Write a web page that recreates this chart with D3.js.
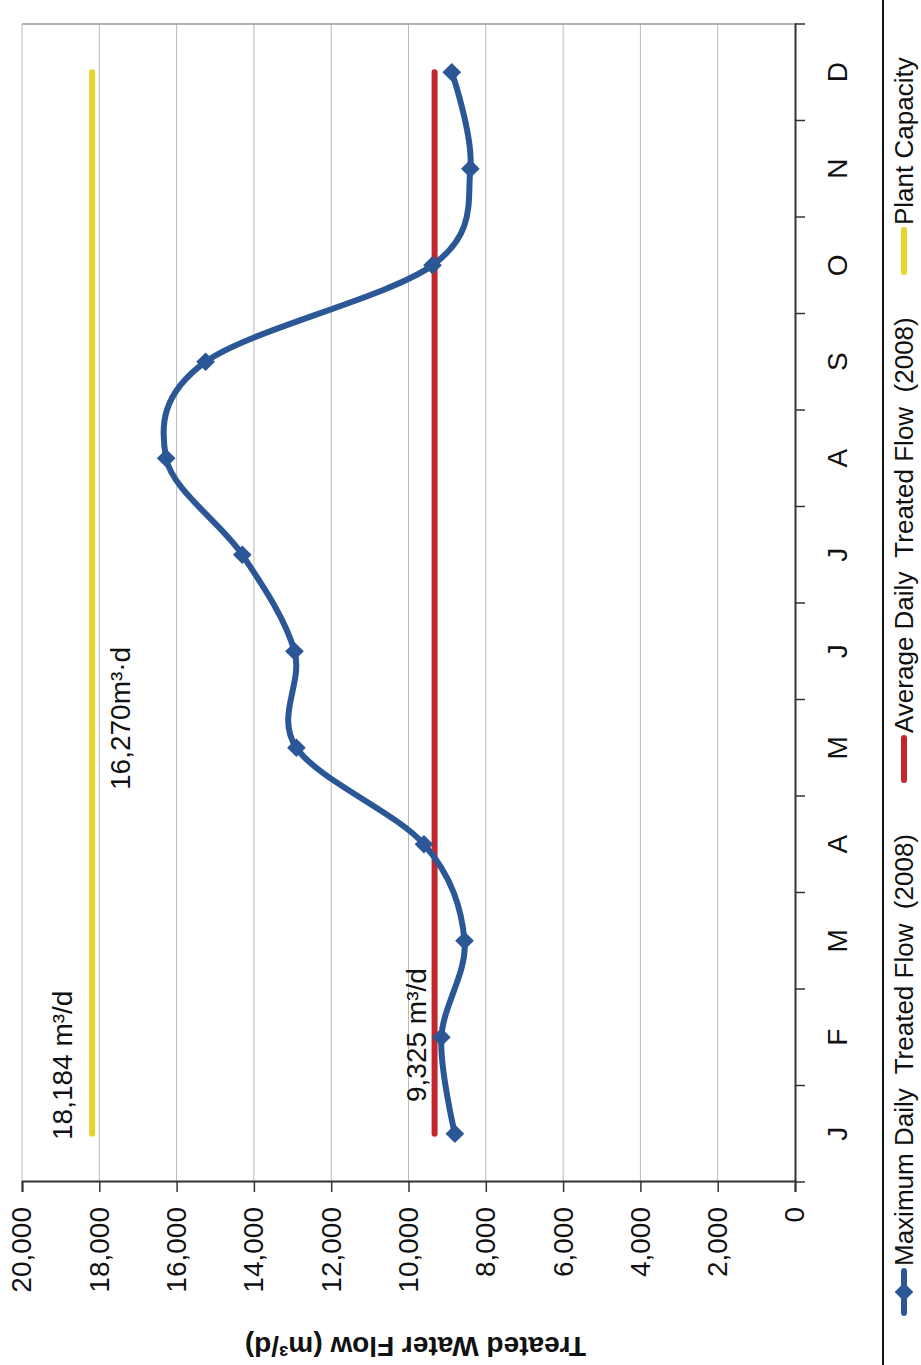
<!DOCTYPE html>
<html>
    <head>
        <style>
            body { margin: 0; background: #ffffff; }
            text { font-family: "Liberation Sans", Arial, sans-serif; }
        </style>
    </head>
    <body>
        <div id="graph_div"></div>
    </body>
    <script src="https://d3js.org/d3.v7.min.js"></script>
    <script>
        // data (2008)
        var months = ["J", "F", "M", "A", "M", "J", "J", "A", "S", "O", "N", "D"];
        var maxDaily = [8800, 9150, 8550, 9600, 12900, 12950, 14300, 16270, 15250, 9380, 8400, 8880];
        var avgDaily = 9325;
        var plantCapacity = 18184;
        var valueTicks = [0, 2000, 4000, 6000, 8000, 10000, 12000, 14000, 16000, 18000, 20000];
        var legendNames = ["Maximum Daily  Treated Flow  (2008)", "Average Daily  Treated Flow  (2008)", "Plant Capacity"];

        var blue = "#2b5797", red = "#c1272d", yellow = "#e6d52c";

        // page is a landscape chart turned a quarter turn, so draw it flat and rotate
        var W = 1365, H = 921;
        var svg = d3.select("#graph_div")
          .append("svg")
            .attr("width", H)
            .attr("height", W);

        var g = svg.append("g")
            .attr("transform", "translate(0," + W + ") rotate(-90)");

        var x = d3.scaleBand()
            .domain(d3.range(months.length))
            .range([183, 1341])
            .padding(0);

        var y = d3.scaleLinear()
            .domain([0, 20000])
            .range([795, 22]);

        var cx = function(i) { return x(i) + x.bandwidth() / 2; };

        // grid lines
        g.append("g")
          .selectAll("line")
          .data(valueTicks.slice(1))
          .enter().append("line")
            .attr("x1", x.range()[0])
            .attr("x2", x.range()[1])
            .attr("y1", function(d) { return y(d); })
            .attr("y2", function(d) { return y(d); })
            .attr("stroke", "#b9b9b9")
            .attr("stroke-width", 1);

        // plot frame on the far side
        g.append("line")
            .attr("x1", x.range()[1]).attr("x2", x.range()[1])
            .attr("y1", y(0)).attr("y2", y(20000))
            .attr("stroke", "#9a9a9a")
            .attr("stroke-width", 1.5);

        // value axis
        var yAxis = g.append("g")
            .attr("transform", "translate(" + x.range()[0] + ",0)")
            .call(d3.axisLeft(y).tickValues(valueTicks).tickFormat(d3.format(",")).tickSize(10).tickPadding(15));
        yAxis.select(".domain").attr("stroke", "#333").attr("stroke-width", 2);
        yAxis.selectAll(".tick line").attr("stroke", "#333").attr("stroke-width", 1.5);
        yAxis.selectAll("text")
            .attr("font-size", "28px")
            .attr("font-family", "Liberation Sans, Arial, sans-serif")
            .attr("fill", "#111");

        // category axis - labels at band centres, ticks at band edges
        var xAxis = g.append("g")
            .attr("transform", "translate(0," + y(0) + ")")
            .call(d3.axisBottom(x).tickFormat(function(i) { return months[i]; }).tickSize(0).tickPadding(32));
        xAxis.select(".domain").attr("stroke", "#333").attr("stroke-width", 2);
        xAxis.selectAll("text")
            .attr("font-size", "28px")
            .attr("font-family", "Liberation Sans, Arial, sans-serif")
            .attr("fill", "#111");
        xAxis.selectAll(".edge")
          .data(d3.range(months.length + 1))
          .enter().append("line")
            .attr("class", "edge")
            .attr("x1", function(i) { return x.range()[0] + i * x.step(); })
            .attr("x2", function(i) { return x.range()[0] + i * x.step(); })
            .attr("y1", 0)
            .attr("y2", 10)
            .attr("stroke", "#333")
            .attr("stroke-width", 1.5);

        // axis title
        g.append("text")
            .attr("transform", "translate(28," + ((y(0) + y(20000)) / 2 + 7) + ") rotate(-90)")
            .attr("text-anchor", "middle")
            .attr("font-size", "28px")
            .attr("font-weight", "bold")
            .attr("fill", "#111")
            .text("Treated Water Flow (m³/d)");

        // flat reference lines
        var flat = [
            {v: plantCapacity, color: yellow},
            {v: avgDaily, color: red}
        ];
        g.selectAll(".flat")
          .data(flat)
          .enter().append("line")
            .attr("class", "flat")
            .attr("x1", cx(0))
            .attr("x2", cx(months.length - 1))
            .attr("y1", function(d) { return y(d.v); })
            .attr("y2", function(d) { return y(d.v); })
            .attr("stroke", function(d) { return d.color; })
            .attr("stroke-width", 6)
            .attr("stroke-linecap", "round");

        // smoothed max daily flow
        g.append("path")
            .datum(maxDaily)
            .attr("fill", "none")
            .attr("stroke", blue)
            .attr("stroke-width", 6)
            .attr("d", d3.line()
                .curve(d3.curveCardinal.tension(0))
                .x(function(d, i) { return cx(i); })
                .y(function(d) { return y(d); }));

        var diamond = d3.symbol().type(d3.symbolSquare).size(175);
        g.append("g")
          .selectAll("path")
          .data(maxDaily)
          .enter().append("path")
            .attr("d", diamond)
            .attr("transform", function(d, i) { return "translate(" + cx(i) + "," + y(d) + ") rotate(45)"; })
            .attr("fill", blue);

        // data labels
        var labels = [
            {text: "18,184 m³/d", x: 225, y: 72},
            {text: "9,325 m³/d", x: 263, y: 426},
            {text: "16,270m³·d", x: 575, y: 130}
        ];
        g.selectAll(".lbl")
          .data(labels)
          .enter().append("text")
            .attr("class", "lbl")
            .attr("x", function(d) { return d.x; })
            .attr("y", function(d) { return d.y; })
            .attr("font-size", "28px")
            .attr("fill", "#111")
            .text(function(d) { return d.text; });

        // legend
        var legend = [
            {name: legendNames[0], color: blue, mark: true, x: 52},
            {name: legendNames[1], color: red, mark: false, x: 585},
            {name: legendNames[2], color: yellow, mark: false, x: 1093}
        ];
        var lg = g.selectAll(".leg")
          .data(legend)
          .enter().append("g")
            .attr("class", "leg")
            .attr("transform", function(d) { return "translate(" + d.x + ",904)"; });
        lg.append("line")
            .attr("x1", 0).attr("x2", 42)
            .attr("y1", 0).attr("y2", 0)
            .attr("stroke", function(d) { return d.color; })
            .attr("stroke-width", 6)
            .attr("stroke-linecap", "round");
        lg.filter(function(d) { return d.mark; })
          .append("path")
            .attr("d", diamond)
            .attr("transform", "translate(21,0) rotate(45)")
            .attr("fill", function(d) { return d.color; });
        lg.append("text")
            .attr("x", 47)
            .attr("y", 9)
            .attr("font-size", "26px")
            .attr("fill", "#111")
            .style("white-space", "pre")
            .text(function(d) { return d.name; });

        // rule between chart and legend
        svg.append("line")
            .attr("x1", 883).attr("x2", 883)
            .attr("y1", 0).attr("y2", W)
            .attr("stroke", "#111")
            .attr("stroke-width", 2);
    </script>
</html>
